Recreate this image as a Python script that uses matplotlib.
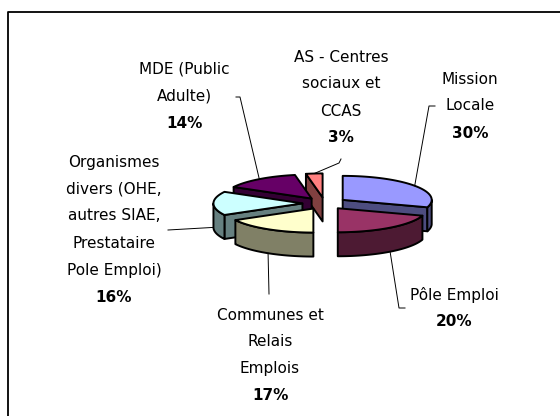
import numpy as np
import matplotlib.pyplot as plt
from matplotlib.patches import Polygon

# data (clockwise from 12 o'clock)
names = ['Mission\nLocale', 'Pôle Emploi', 'Communes et\nRelais\nEmplois',
         'Organismes\ndivers (OHE,\nautres SIAE,\nPrestataire\nPole Emploi)',
         'MDE (Public\nAdulte)', 'AS - Centres\nsociaux et\nCCAS']
values = [30, 20, 17, 16, 14, 3]
top_colors = ['#9999FF', '#993366', '#FFFFCC', '#CCFFFF', '#660066', '#FF8080']
side_colors = ['#4D4D80', '#4D1A33', '#808066', '#668080', '#330033', '#804040']

# label layout (pixel coords, y down): first line centre + leader anchor path
label_pos = [(470, 79), (454, 295), (270, 315), (114, 162), (184, 69), (341, 57)]
leader_start = [[(435, 106), (429, 106)], [(405, 308), (399, 308)], [(269, 294)],
                [(168, 230)], [(236, 97), (240, 97)], [(341, 159), (339, 163)]]

# pie geometry
cx, cy = 324.7, 203.4
rx, ry = 89, 24
h = 24
explode = 0.25
step = 27

fig = plt.figure(figsize=(5.6, 4.16), dpi=100)
ax = fig.add_axes([0, 0, 1, 1])
ax.set_xlim(0, 560)
ax.set_ylim(416, 0)
ax.axis('off')

# chart frame (right/bottom fall outside the picture)
ax.plot([8, 8, 560], [416, 12, 12], color='black', lw=1.3, solid_capstyle='butt')


def pt(vx, vy, t, dy=0.0):
    return (vx + rx * np.sin(t), vy - ry * np.cos(t) + dy)


def arc(vx, vy, t0, t1, dy=0.0, n=60):
    ts = np.linspace(t0, t1, n)
    return [pt(vx, vy, t, dy) for t in ts]


total = sum(values)
bounds = np.cumsum([0] + values) / total * 2 * np.pi
wedges = []
for i in range(len(values)):
    a1, a2 = bounds[i], bounds[i + 1]
    mid = (a1 + a2) / 2
    vx = cx + explode * rx * np.sin(mid)
    vy = cy - explode * ry * np.cos(mid)
    wedges.append((np.cos(mid), i, a1, a2, mid, vx, vy))

edge = dict(edgecolor='black', lw=1.4, joinstyle='round')
# back to front
for c, i, a1, a2, mid, vx, vy in sorted(wedges, key=lambda w: -w[0]):
    side = side_colors[i]
    if np.sin(a1) < -1e-9:
        p = pt(vx, vy, a1)
        ax.add_patch(Polygon([(vx, vy), p, (p[0], p[1] + h), (vx, vy + h)],
                             facecolor=side, **edge))
    if np.sin(a2) > 1e-9:
        p = pt(vx, vy, a2)
        ax.add_patch(Polygon([(vx, vy), p, (p[0], p[1] + h), (vx, vy + h)],
                             facecolor=side, **edge))
    lo, hi = max(a1, np.pi / 2), min(a2, 3 * np.pi / 2)
    if lo < hi:
        wall = arc(vx, vy, lo, hi) + arc(vx, vy, hi, lo, dy=h)
        ax.add_patch(Polygon(wall, facecolor=side, **edge))
    ax.add_patch(Polygon([(vx, vy)] + arc(vx, vy, a1, a2),
                         facecolor=top_colors[i], **edge))

# labels and leader lines
for c, i, a1, a2, mid, vx, vy in wedges:
    x0, y0 = label_pos[i]
    lines = names[i].split('\n')
    for k, ln in enumerate(lines):
        ax.text(x0, y0 + k * step, ln, ha='center', va='center', fontsize=11)
    pct = '{:.0f}%'.format(values[i] / total * 100)
    ax.text(x0, y0 + len(lines) * step, pct, ha='center', va='center',
            fontsize=11, fontweight='bold')
    end = pt(vx, vy, mid, dy=h if np.cos(mid) <= 1e-9 else 0)
    path = leader_start[i] + [end]
    ax.plot([p[0] for p in path], [p[1] for p in path], color='black', lw=0.7)

fig.savefig('out.png', dpi=100)
